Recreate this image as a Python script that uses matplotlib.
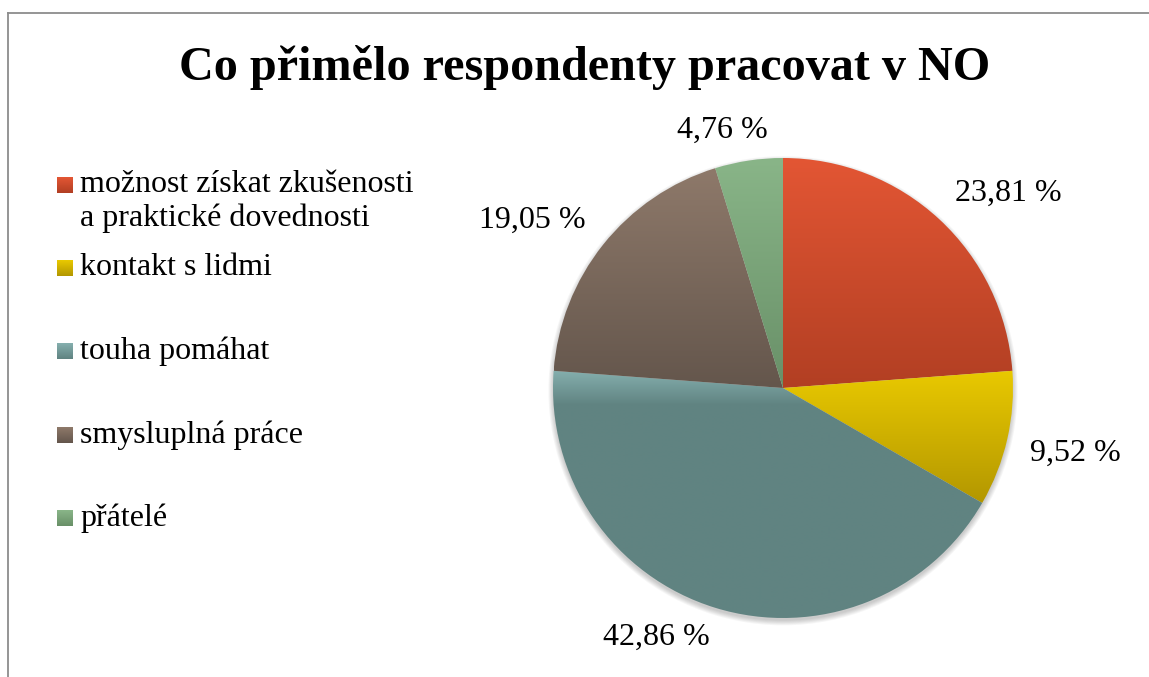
import numpy as np
import matplotlib
matplotlib.use("Agg")
import matplotlib.pyplot as plt
from matplotlib.lines import Line2D
from matplotlib.patches import Circle

plt.rcParams['font.family'] = ['Liberation Serif', 'DejaVu Serif']

# data
title = "Co přimělo respondenty pracovat v NO"
categories = ["možnost získat zkušenosti\na praktické dovednosti",
              "kontakt s lidmi",
              "touha pomáhat",
              "smysluplná práce",
              "přátelé"]
values = [23.81, 9.52, 42.86, 19.05, 4.76]

# gradient colours per slice (top -> bottom)
top_colors = ["#E35634", "#E9C900", "#85AFAE", "#8E796A", "#89B588"]
bottom_colors = ["#B23F23", "#B39700", "#608381", "#64564C", "#699068"]
grad_stop = [1.0, 1.0, 0.14, 1.0, 1.0]

W, H = 1149, 677
fig = plt.figure(figsize=(W / 100, H / 100), dpi=100)

# frame lines (top and left)
fig.add_artist(Line2D([8 / W, 1.0], [1 - 13 / H, 1 - 13 / H], color="#8c8c8c", lw=1.3))
fig.add_artist(Line2D([8 / W, 8 / W], [0, 1 - 13 / H], color="#8c8c8c", lw=1.3))

fig.text(585 / W, 1 - 68 / H, title, ha="center", va="center",
         fontsize=34.7, fontweight="bold")

# pie axes: centre at (783, 388) px, radius 230 px
R = 230
ax = fig.add_axes([(783 - R) / W, (H - 388 - R) / H, 2 * R / W, 2 * R / H])
wedges, _ = ax.pie(values, startangle=90, counterclock=False, radius=1)

# soft shadow under the pie
for i in range(6):
    ax.add_patch(Circle((0, -0.012), 1.0 + 0.004 * i, color="black",
                        alpha=0.035, lw=0, zorder=0, clip_on=False))


def hex2rgb(h):
    return np.array([int(h[k:k + 2], 16) / 255 for k in (1, 3, 5)])


for w, tc, bc, st in zip(wedges, top_colors, bottom_colors, grad_stop):
    w.set_facecolor("none")
    w.set_edgecolor("none")
    bb = w.get_path().get_extents()
    t = np.linspace(0, 1, 256)
    frac = np.clip(t / st, 0, 1)[:, None]
    grad = hex2rgb(tc) + (hex2rgb(bc) - hex2rgb(tc)) * frac
    im = ax.imshow(grad[:, None, :], extent=(bb.x0, bb.x1, bb.y0, bb.y1),
                   origin="upper", aspect="auto", interpolation="bilinear", zorder=2)
    im.set_clip_path(w)

ax.set_xlim(-1, 1)
ax.set_ylim(-1, 1)
ax.set_aspect("equal")
ax.axis("off")

# data labels, placed outside the slices
fig.canvas.draw()
renderer = fig.canvas.get_renderer()
for w, v in zip(wedges, values):
    ang = np.deg2rad((w.theta1 + w.theta2) / 2)
    c, s = np.cos(ang), np.sin(ang)
    lab = f"{v:.2f} %".replace(".", ",")
    txt = ax.text(1.1 * c, 1.1 * s, lab, ha="center", va="center",
                  fontsize=23, clip_on=False)
    ext = txt.get_window_extent(renderer)
    fx = np.clip(c / 0.3, -1, 1)
    fy = np.clip(s / 0.3, -1, 1)
    txt.set_position((1.1 * c + ext.width / 2 / R * fx,
                      1.07 * s + ext.height / 2 / R * fy))

# legend
leg_y = [185, 268, 351, 435, 518]
for cat, y, tc, bc in zip(categories, leg_y, top_colors, bottom_colors):
    g = np.linspace(0, 1, 32)[:, None]
    grad = hex2rgb(tc) + (hex2rgb(bc) - hex2rgb(tc)) * g
    lax = fig.add_axes([57 / W, 1 - (y + 8) / H, 16 / W, 16 / H])
    lax.imshow(grad[:, None, :], aspect="auto", origin="upper")
    lax.axis("off")
    ty = y + 16.5 if "\n" in cat else y
    fig.text(80 / W, 1 - ty / H, cat, ha="left", va="center",
             fontsize=23, linespacing=1.2)

fig.savefig("out.png", dpi=100)
